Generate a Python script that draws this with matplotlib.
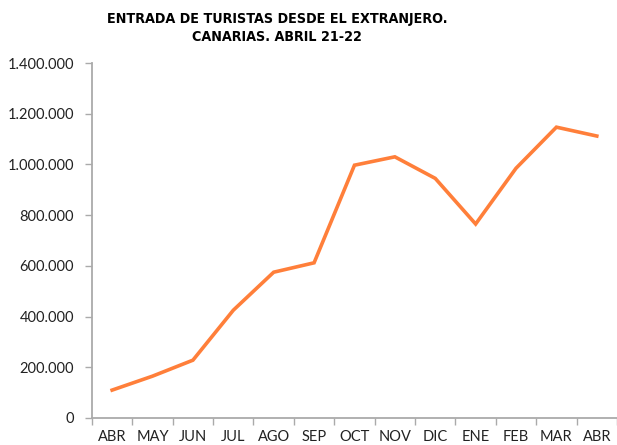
# Entrada de turistas desde el extranjero, Canarias, abril 21-22
import matplotlib.pyplot as plt
from matplotlib.ticker import FuncFormatter, FixedLocator

months = ['ABR', 'MAY', 'JUN', 'JUL', 'AGO', 'SEP', 'OCT', 'NOV', 'DIC',
          'ENE', 'FEB', 'MAR', 'ABR']
tourists = [110000, 165000, 228000, 425000, 575000, 612000, 997000,
            1030000, 945000, 765000, 985000, 1147000, 1112000]

fig = plt.figure(figsize=(6.17, 4.45), dpi=100)
ax = fig.add_axes([0.149, 0.0607, 0.851, 0.7977])

x = list(range(len(months)))
ax.plot(x, tourists, color='#FF7F3A', linewidth=2.6, solid_joinstyle='miter')

ax.set_xlim(-0.5, len(months) - 0.5)
ax.set_ylim(0, 1400000)
ax.set_yticks(range(0, 1400001, 200000))
ax.yaxis.set_major_formatter(FuncFormatter(lambda v, p: f'{int(v):,}'.replace(',', '.')))

# category labels centred, tick marks between categories
ax.set_xticks(x)
ax.set_xticklabels(months)
ax.xaxis.set_minor_locator(FixedLocator([i - 0.5 for i in range(len(months) + 1)]))
ax.tick_params(axis='x', which='major', length=0, pad=9)
ax.tick_params(axis='x', which='minor', length=5, color='#AAAAAA', width=1)
ax.tick_params(axis='y', length=5, color='#AAAAAA', width=1, pad=8)

for lab in ax.get_xticklabels() + ax.get_yticklabels():
    lab.set_fontfamily('Lato')
    lab.set_fontsize(10.5)
    lab.set_color('#222222')

for s in ['top', 'right']:
    ax.spines[s].set_visible(False)
for s in ['left', 'bottom']:
    ax.spines[s].set_color('#AAAAAA')
    ax.spines[s].set_linewidth(1.3)

fig.suptitle('ENTRADA DE TURISTAS DESDE EL EXTRANJERO.\nCANARIAS. ABRIL 21-22',
             x=0.449, y=0.972, fontsize=10.3, fontweight='bold',
             fontstretch='condensed', family='DejaVu Sans', linespacing=1.35)

fig.savefig('out.png', dpi=100)
